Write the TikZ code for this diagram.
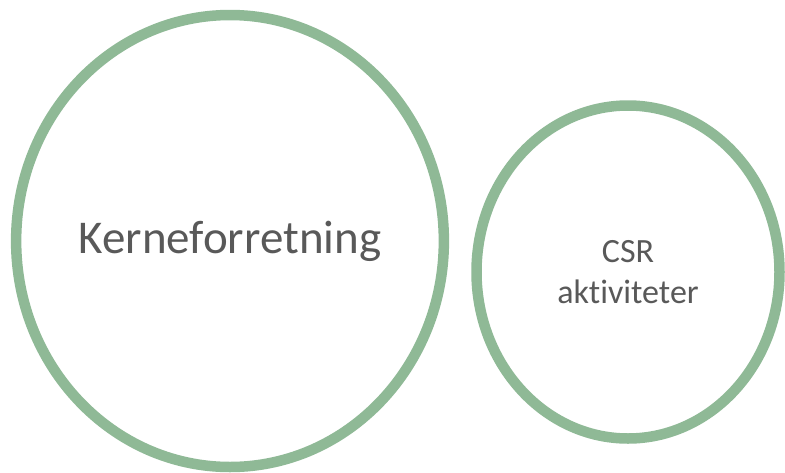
\documentclass[tikz,border=0pt]{standalone}
\usepackage{fontspec}
\setmainfont{Carlito}[Ligatures=NoCommon]
\usetikzlibrary{shapes.geometric}
\definecolor{ringgreen}{RGB}{143,185,150}
\definecolor{textgray}{RGB}{89,89,89}

\begin{document}
\begin{tikzpicture}[x=1pt,y=-1pt,
  ring/.style={draw=ringgreen,ellipse,line width=10.5pt,inner sep=0pt,text=textgray,align=center}]

\useasboundingbox (0,0) rectangle (785,472);

\node[ring,minimum width=427pt,minimum height=452pt,font={\fontsize{47}{56}\selectfont}] (kerne) at (230,241) {Kerneforretning};
\node[ring,minimum width=303pt,minimum height=333pt,font={\fontsize{34}{41}\selectfont}] (csr) at (628,272) {CSR\\aktiviteter};

\end{tikzpicture}
\end{document}
